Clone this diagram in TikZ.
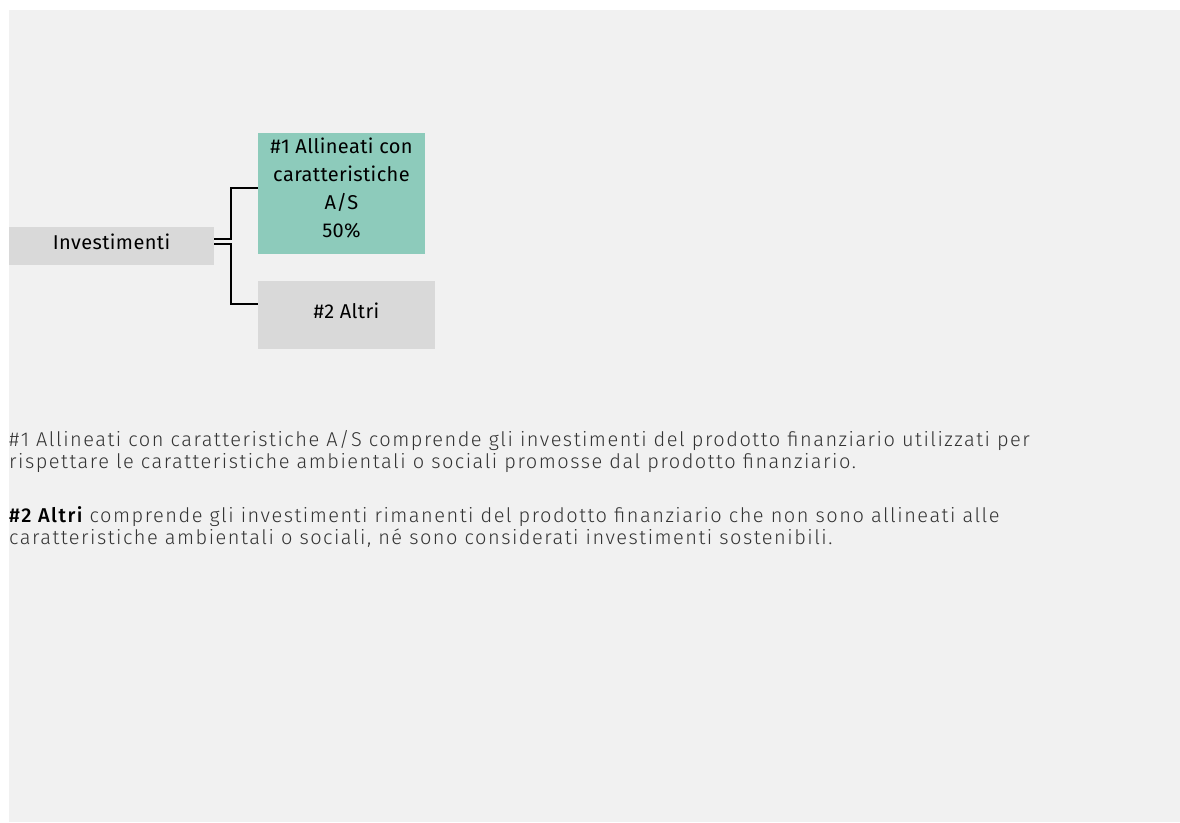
\documentclass[tikz,border=0pt]{standalone}
\usepackage{fontspec}
\setmainfont{Fira Sans}[UprightFont=* Light, BoldFont=* Medium, LetterSpace=7.5]
\newfontfamily\boxfont{Fira Sans}[UprightFont=*, LetterSpace=2]
\definecolor{bg}{HTML}{F1F1F1}
\definecolor{boxgray}{HTML}{D9D9D9}
\definecolor{boxgreen}{HTML}{8DCBBB}
\definecolor{txt}{HTML}{333333}
\tikzset{
  box/.style={rectangle, inner sep=0pt, align=center, font=\boxfont\fontsize{20}{28}\selectfont, text=black, text depth=8pt},
  conn/.style={line width=1.8pt, black},
  para/.style={anchor=base west, inner sep=0pt, font=\fontsize{20}{22}\selectfont, text=txt}
}
\begin{document}
\begin{tikzpicture}[x=1pt,y=-1pt]
\useasboundingbox (0,0) rectangle (1180,822);
\fill[bg] (9,10) rectangle (1180,822);
\node[box, fill=boxgray, minimum width=205pt, minimum height=38pt] (inv) at (111.5,246) {Investimenti};
\node[box, fill=boxgreen, minimum width=167pt, minimum height=121pt, text depth=11pt] (g) at (341.5,193.5) {\#1 Allineati con\\caratteristiche\\A/S\\50\%};
\node[box, fill=boxgray, minimum width=177pt, minimum height=68pt] (a) at (346.5,315) {\#2 Altri};
\draw[conn] ([yshift=7pt]inv.east) -- ++(17,0) |- ([yshift=5.5pt]g.west);
\draw[conn] ([yshift=2pt]inv.east) -- ++(17,0) |- ([yshift=11pt]a.west);
\node[para] (p1) at (9,446) {\#1 Allineati con caratteristiche A/S comprende gli investimenti del prodotto finanziario utilizzati per};
\node[para] (p2) at (9,468) {rispettare le caratteristiche ambientali o sociali promosse dal prodotto finanziario.};
\node[para] (p3) at (9,522) {{\bfseries\color{black}\#2 Altri} comprende gli investimenti rimanenti del prodotto finanziario che non sono allineati alle};
\node[para] (p4) at (9,544) {caratteristiche ambientali o sociali, né sono considerati investimenti sostenibili.};
\end{tikzpicture}
\end{document}
